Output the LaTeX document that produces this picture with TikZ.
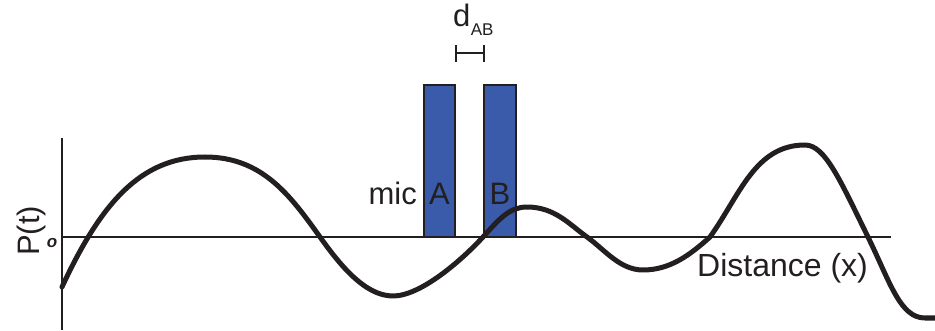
\documentclass[tikz,border=0pt]{standalone}
\usepackage{fontspec}
\setmainfont{Liberation Sans}
\definecolor{micblue}{HTML}{3A5BAA}
\definecolor{ink}{HTML}{231F20}
\begin{document}
\begin{tikzpicture}[x=1pt,y=-1pt,
  axisline/.style={draw=ink,line width=2.2pt},
  micbox/.style={draw=ink,fill=micblue,line width=2pt},
  wave/.style={draw=ink,line width=5pt,line cap=round,line join=round},
  lbl/.style={inner sep=0pt,font=\fontsize{31}{31}\selectfont,text=ink}]
\useasboundingbox (0,0) rectangle (935,331);
% axes
\coordinate (ytop) at (62,138);
\coordinate (ybot) at (62,330);
\coordinate (xleft) at (62,237);
\coordinate (xright) at (891,237);
\draw[axisline] (ytop) -- (ybot);
\draw[axisline] (xleft) -- (xright);
% microphones
\draw[micbox] (424,85) rectangle (455,237);
\draw[micbox] (484,85) rectangle (516,237);
\node[lbl,anchor=base] (A) at (439.5,205) {A};
\node[lbl,anchor=base] (B) at (500,205) {B};
\node[lbl,anchor=base east] (mic) at (417,205) {mic};
% d_AB
\node[inner sep=0pt,anchor=base west,font=\fontsize{31}{31}\selectfont,text=ink] (d) at (453,27) {d};
\node[inner sep=0pt,anchor=base west,font=\fontsize{17}{17}\selectfont,text=ink] (AB) at (d.base east) {\raisebox{-9pt}{AB}};
\coordinate (bl) at (456,53);
\coordinate (br) at (484,53);
\draw[ink,line width=2.4pt] (bl) -- (br);
\draw[ink,line width=2.4pt] (456,45) -- (456,62);
\draw[ink,line width=2.4pt] (484,45) -- (484,62);
% axis labels
\node[lbl,rotate=90,anchor=base west] (P) at (39,256) {P(t)};
\node[inner sep=0pt,font=\fontsize{17}{17}\selectfont\bfseries\itshape,text=ink] (o) at (52,243) {o};
\node[lbl,anchor=base west,font=\fontsize{32}{32}\selectfont] (dist) at (697,277) {Distance (x)};
% wave
\draw[wave] (62,287) .. controls (100,205) and (140,157) .. (205,157)
  .. controls (262,157) and (290,195) .. (320,237)
  .. controls (340,265) and (365,296) .. (393,296)
  .. controls (420,296) and (460,262) .. (483,237)
  .. controls (500,218) and (510,207) .. (527,207)
  .. controls (555,207) and (570,225) .. (587,237)
  .. controls (605,250) and (620,270) .. (643,270)
  .. controls (670,270) and (690,255) .. (710,237)
  .. controls (740,195) and (755,145) .. (805,145)
  .. controls (825,145) and (840,180) .. (868,237)
  .. controls (890,282) and (900,318) .. (925,318) -- (935,318);
\end{tikzpicture}
\end{document}
